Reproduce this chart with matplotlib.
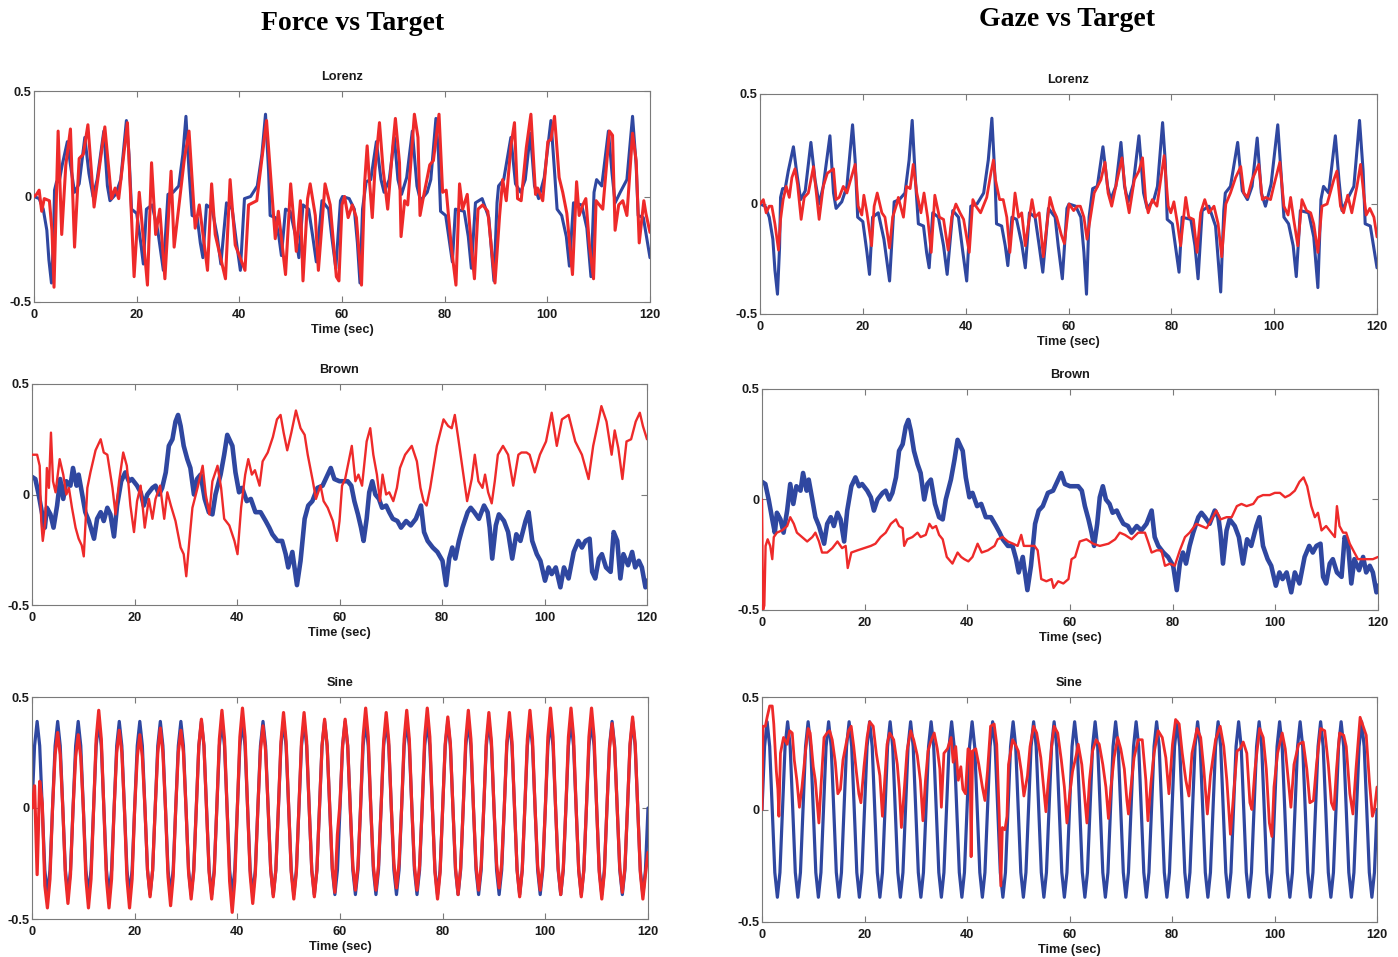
import numpy as np
import matplotlib
matplotlib.use("Agg")
import matplotlib.pyplot as plt

# ---------------------------------------------------------------- data
# Lorenz target (shared by both columns): (time s, value)
lorenz_target = [
    (0, 0.00), (1.0, -0.01), (1.8, -0.06), (2.5, -0.16), (2.9, -0.30), (3.4, -0.41),
    (3.8, -0.20), (4.0, 0.03), (4.4, 0.07), (4.9, 0.07), (5.5, 0.15), (6.5, 0.26),
    (7.1, 0.15), (7.9, 0.02), (8.8, 0.06), (9.9, 0.28), (10.7, 0.11), (11.5, 0.00),
    (12.3, 0.08), (13.6, 0.31), (14.3, 0.05), (14.8, -0.02), (15.9, 0.01), (16.9, 0.08),
    (18.0, 0.36), (18.5, 0.20), (19.0, -0.06), (20.0, -0.08), (20.8, -0.22), (21.3, -0.32),
    (21.9, -0.06), (23.0, -0.04), (24.1, -0.16), (25.2, -0.35), (26.1, 0.01), (27.1, 0.02),
    (28.2, 0.05), (29.0, 0.20), (29.6, 0.38), (30.2, 0.12), (30.8, -0.09), (31.8, -0.10),
    (32.4, -0.22), (32.9, -0.29), (33.6, -0.04), (34.7, -0.06), (35.7, -0.19), (36.4, -0.32),
    (37.5, -0.03), (38.6, -0.06), (39.4, -0.21), (40.2, -0.35), (41.0, -0.01), (42.2, 0.00),
    (43.5, 0.05), (44.4, 0.20), (45.1, 0.39), (45.7, 0.12), (46.0, -0.09), (47.0, -0.10),
    (47.7, -0.19), (48.2, -0.28), (49.0, -0.06), (49.9, -0.07), (50.9, -0.18), (51.6, -0.29),
    (52.4, -0.04), (53.5, -0.06), (54.3, -0.19), (55.0, -0.31), (56.1, -0.02), (57.4, -0.06),
    (58.0, -0.19), (58.8, -0.34), (59.7, -0.02), (60.1, 0.00), (61.4, -0.01), (62.4, -0.06),
    (63.0, -0.22), (63.5, -0.41), (64.0, -0.06), (64.7, 0.07), (65.6, 0.08), (66.7, 0.26),
    (67.6, 0.08), (68.2, 0.02), (69.2, 0.08), (70.2, 0.28), (70.9, 0.08), (71.6, 0.01),
    (72.6, 0.09), (73.7, 0.31), (74.6, 0.05), (75.3, -0.02), (76.6, 0.02), (77.3, 0.08),
    (78.3, 0.37), (78.8, 0.20), (79.2, -0.07), (80.2, -0.09), (80.8, -0.19), (81.5, -0.31),
    (82.1, -0.06), (83.8, -0.07), (84.6, -0.19), (85.2, -0.34), (86.0, -0.03), (87.3, -0.01),
    (88.6, -0.10), (89.6, -0.40), (90.2, -0.03), (90.5, 0.05), (91.5, 0.08), (92.9, 0.28),
    (93.8, 0.06), (94.8, 0.02), (95.7, 0.08), (96.7, 0.30), (97.5, 0.05), (98.3, -0.01),
    (99.4, 0.09), (100.7, 0.36), (101.4, 0.12), (101.9, -0.06), (102.8, -0.09), (103.7, -0.19),
    (104.3, -0.33), (105.1, -0.03), (106.7, -0.04), (107.7, -0.15), (108.5, -0.38), (109.1, 0.02),
    (109.6, 0.08), (110.6, 0.05), (111.9, 0.31), (112.6, 0.11), (113.2, -0.03), (114.2, 0.02),
    (115.5, 0.08), (116.6, 0.38), (117.3, 0.15), (117.7, -0.09), (118.7, -0.10), (120.0, -0.29),
]

lorenz_force = [
    (0, 0.00), (0.5, 0.01), (1.0, 0.03), (1.5, -0.07), (2.0, -0.01), (3.0, -0.02),
    (3.5, -0.16), (3.9, -0.43), (4.7, 0.31), (5.4, -0.18), (6.2, 0.15), (7.1, 0.32),
    (7.9, -0.24), (8.8, 0.18), (9.6, 0.20), (10.5, 0.34), (11.7, -0.05), (13.8, 0.33),
    (15.1, -0.01), (15.8, 0.04), (16.5, -0.01), (18.2, 0.35), (19.5, -0.38), (20.5, 0.02),
    (22.1, -0.42), (22.9, 0.16), (23.7, -0.18), (24.5, -0.06), (25.5, -0.39), (26.7, 0.12),
    (27.3, -0.24), (29.3, 0.18), (30.2, 0.31), (31.4, -0.15), (32.2, -0.04), (33.8, -0.35),
    (34.6, 0.06), (35.3, -0.18), (37.3, -0.39), (38.2, 0.08), (39.2, -0.23), (41.1, -0.35),
    (41.8, -0.04), (43.4, -0.02), (45.3, 0.36), (47.0, -0.20), (47.6, -0.07), (49.0, -0.37),
    (50.0, 0.06), (51.1, -0.26), (51.9, -0.02), (52.4, -0.40), (53.3, -0.01), (53.8, 0.06),
    (54.8, -0.09), (55.4, -0.35), (56.7, 0.06), (57.7, -0.04), (58.9, -0.38), (59.4, -0.40),
    (60.0, -0.04), (60.5, 0.00), (61.2, -0.10), (62.0, -0.04), (62.8, -0.10), (63.8, -0.42),
    (64.4, 0.06), (64.9, 0.24), (65.3, 0.09), (65.9, -0.10), (66.4, 0.12), (67.3, 0.35),
    (68.0, 0.13), (68.9, -0.06), (69.9, 0.24), (70.4, 0.37), (71.2, 0.16), (71.5, -0.19),
    (72.2, -0.02), (72.8, -0.04), (74.1, 0.39), (74.8, 0.28), (75.2, -0.09), (75.8, -0.01),
    (77.1, 0.15), (77.8, 0.17), (78.9, 0.39), (79.6, 0.02), (80.3, 0.03), (81.3, -0.24),
    (82.2, -0.42), (82.9, 0.06), (83.5, -0.06), (84.4, 0.01), (85.2, -0.24), (85.8, -0.39),
    (86.5, -0.06), (87.4, -0.04), (88.4, -0.07), (89.8, -0.41), (90.7, -0.09), (91.3, 0.08),
    (92.0, -0.02), (92.9, 0.24), (93.6, 0.35), (94.2, -0.01), (94.9, -0.02), (95.9, 0.23),
    (96.8, 0.39), (97.7, 0.01), (98.1, 0.04), (99.1, -0.02), (100.1, 0.26), (100.7, 0.27),
    (101.4, 0.38), (102.3, 0.09), (103.0, 0.02), (103.8, -0.08), (104.9, -0.37), (105.7, 0.07),
    (106.2, -0.09), (106.9, -0.04), (107.5, -0.01), (108.2, -0.23), (109.0, -0.39), (109.5, -0.02),
    (110.8, -0.06), (112.1, 0.31), (112.7, 0.29), (113.2, -0.16), (113.9, -0.04), (114.7, -0.02),
    (115.5, -0.09), (116.6, 0.30), (117.3, 0.17), (117.9, -0.22), (118.8, -0.02), (119.2, -0.08),
    (120.0, -0.17),
]

lorenz_gaze = [
    (0, 0.00), (0.65, 0.02), (1.2, -0.04), (1.8, -0.01), (2.3, -0.01), (2.9, -0.09),
    (3.6, -0.21), (4.0, -0.07), (4.5, 0.02), (5.1, 0.08), (5.7, 0.03), (6.2, 0.12),
    (6.8, 0.16), (7.3, 0.09), (8.0, -0.07), (8.6, 0.03), (9.4, 0.05), (10.4, 0.17),
    (10.9, 0.06), (11.5, -0.07), (12.3, 0.08), (13.1, 0.14), (14.3, 0.16), (14.8, 0.02),
    (15.4, 0.03), (16.2, 0.08), (16.9, 0.05), (17.5, 0.10), (18.5, 0.18), (19.1, -0.01),
    (19.8, -0.05), (20.2, 0.04), (20.8, -0.04), (21.7, -0.19), (22.2, -0.01), (22.8, 0.05),
    (23.7, -0.04), (24.3, -0.06), (25.2, -0.20), (25.8, -0.06), (26.6, 0.00), (26.9, 0.03),
    (27.9, -0.06), (28.5, 0.08), (29.2, 0.07), (29.8, 0.18), (30.5, 0.05), (31.3, -0.04),
    (31.9, 0.05), (32.6, -0.06), (33.3, -0.22), (34.0, 0.04), (34.9, -0.06), (35.7, -0.07),
    (36.6, -0.21), (37.3, -0.06), (38.1, 0.00), (38.9, -0.04), (39.6, -0.07), (40.7, -0.22),
    (41.4, 0.02), (42.0, -0.01), (42.9, -0.04), (44.1, 0.03), (44.9, 0.14), (45.4, 0.20),
    (45.8, 0.11), (46.6, 0.02), (47.3, 0.02), (48.0, -0.06), (48.6, -0.22), (49.6, 0.05),
    (50.3, -0.06), (50.9, -0.04), (51.6, -0.19), (52.9, 0.02), (53.5, -0.06), (54.3, -0.04),
    (55.1, -0.24), (56.4, 0.03), (57.1, -0.03), (57.7, -0.06), (58.6, -0.14), (59.2, -0.18),
    (60.1, 0.00), (61.0, -0.03), (61.7, -0.01), (62.3, -0.01), (63.0, -0.06), (63.6, -0.16),
    (64.2, -0.07), (65.0, 0.05), (66.3, 0.11), (67.1, 0.19), (67.7, 0.05), (68.4, -0.01),
    (69.2, 0.08), (70.4, 0.21), (71.1, 0.05), (71.8, -0.04), (72.8, 0.11), (73.7, 0.15),
    (74.4, 0.21), (75.0, 0.02), (75.5, -0.04), (76.3, 0.02), (77.2, -0.01), (78.6, 0.22),
    (79.4, -0.01), (79.9, -0.04), (80.5, 0.01), (81.2, -0.09), (81.8, -0.19), (82.8, 0.03),
    (83.4, -0.06), (84.3, -0.07), (85.0, -0.22), (85.7, -0.04), (86.5, 0.02), (87.3, -0.04),
    (88.3, -0.01), (89.1, -0.09), (89.8, -0.24), (90.6, 0.00), (91.5, 0.05), (92.5, 0.12),
    (93.5, 0.17), (94.1, 0.05), (94.8, 0.03), (95.7, 0.11), (97.0, 0.18), (97.7, 0.02),
    (98.3, 0.03), (99.3, 0.02), (99.9, 0.08), (101.1, 0.19), (101.9, -0.01), (102.7, -0.05),
    (103.2, 0.03), (103.8, -0.07), (104.6, -0.19), (105.4, 0.02), (106.3, -0.03), (107.1, -0.04),
    (107.7, -0.09), (108.5, -0.22), (109.3, -0.01), (110.3, 0.00), (111.6, 0.11), (112.2, 0.15),
    (112.9, -0.01), (113.5, -0.04), (114.3, 0.04), (115.1, -0.04), (116.1, 0.08), (116.8, 0.18),
    (117.4, 0.05), (117.9, -0.05), (118.6, -0.02), (119.4, -0.06), (120.0, -0.15),
]

# Brown-noise target (shared by both columns)
brown_target = [
    (0, 0.08), (0.65, 0.07), (1.3, 0.00), (2.0, -0.09), (2.5, -0.15), (2.9, -0.06),
    (3.6, -0.09), (4.2, -0.15), (4.9, -0.05), (5.5, 0.07), (6.1, -0.02), (6.7, 0.06),
    (7.5, 0.04), (8.0, 0.12), (8.7, 0.04), (9.1, 0.09), (9.8, 0.00), (10.4, -0.08),
    (11.1, -0.12), (12.1, -0.20), (12.7, -0.11), (13.4, -0.08), (14.0, -0.12), (14.7, -0.06),
    (15.3, -0.09), (16.0, -0.19), (16.6, -0.05), (17.4, 0.06), (18.2, 0.10), (18.9, 0.06),
    (19.5, 0.07), (20.5, 0.04), (21.2, 0.01), (21.8, -0.05), (22.5, 0.00), (23.5, 0.03),
    (24.1, 0.04), (24.8, 0.00), (25.4, 0.03), (26.1, 0.10), (26.7, 0.22), (27.4, 0.25),
    (28.0, 0.33), (28.5, 0.36), (29.0, 0.31), (29.6, 0.22), (30.3, 0.16), (30.9, 0.12),
    (31.6, 0.00), (32.2, 0.07), (32.9, 0.09), (33.7, -0.02), (34.5, -0.08), (35.2, -0.09),
    (35.8, 0.00), (36.8, 0.09), (37.5, 0.18), (38.1, 0.27), (39.1, 0.22), (39.7, 0.10),
    (40.4, 0.01), (41.0, 0.03), (41.9, -0.03), (42.7, -0.02), (43.6, -0.08), (44.6, -0.08),
    (45.6, -0.12), (46.3, -0.15), (46.9, -0.18), (47.9, -0.21), (48.8, -0.21), (49.5, -0.27),
    (50.0, -0.33), (50.8, -0.26), (51.7, -0.41), (52.4, -0.30), (53.2, -0.11), (53.9, -0.05),
    (54.7, -0.03), (55.7, 0.03), (56.7, 0.04), (57.7, 0.09), (58.3, 0.12), (59.0, 0.07),
    (60.0, 0.06), (61.6, 0.06), (62.3, 0.04), (62.9, -0.03), (63.6, -0.09), (64.2, -0.15),
    (64.7, -0.21), (65.3, -0.11), (65.8, 0.01), (66.4, 0.06), (67.0, 0.00), (67.7, -0.02),
    (68.3, -0.06), (69.1, -0.05), (69.7, -0.08), (70.4, -0.11), (71.3, -0.12), (72.0, -0.15),
    (73.0, -0.12), (73.9, -0.14), (74.9, -0.11), (75.9, -0.05), (76.5, -0.17), (77.2, -0.21),
    (78.2, -0.24), (79.1, -0.26), (80.1, -0.30), (80.8, -0.41), (81.4, -0.29), (82.0, -0.24),
    (82.6, -0.29), (83.3, -0.21), (84.0, -0.15), (85.0, -0.08), (85.6, -0.06), (86.3, -0.08),
    (87.2, -0.11), (88.2, -0.05), (88.9, -0.08), (89.3, -0.15), (89.8, -0.29), (90.5, -0.14),
    (91.1, -0.09), (92.1, -0.12), (92.9, -0.17), (93.7, -0.29), (94.5, -0.18), (95.3, -0.21),
    (96.3, -0.12), (96.9, -0.08), (97.6, -0.21), (98.5, -0.27), (99.2, -0.30), (100.1, -0.39),
    (100.8, -0.33), (101.4, -0.36), (102.2, -0.33), (103.1, -0.42), (103.8, -0.33), (104.7, -0.38),
    (105.7, -0.26), (106.6, -0.21), (107.3, -0.24), (108.0, -0.21), (108.8, -0.20), (109.3, -0.35),
    (109.9, -0.38), (110.6, -0.29), (111.2, -0.27), (112.0, -0.33), (112.9, -0.35), (113.5, -0.17),
    (114.2, -0.21), (114.8, -0.38), (115.4, -0.27), (116.3, -0.32), (117.1, -0.26), (117.7, -0.33),
    (118.4, -0.30), (119.0, -0.33), (119.7, -0.42), (120.0, -0.39),
]

brown_force = [
    (0, 0.18), (1.0, 0.18), (1.5, 0.13), (1.8, -0.12), (2.1, -0.21), (2.6, -0.12),
    (2.9, 0.12), (3.3, 0.03), (3.7, 0.28), (4.1, 0.06), (4.6, 0.01), (5.4, 0.16),
    (6.1, 0.09), (6.7, 0.00), (7.2, 0.03), (7.8, -0.06), (8.5, -0.15), (9.1, -0.20),
    (9.7, -0.23), (10.1, -0.28), (10.8, 0.03), (11.4, 0.10), (12.4, 0.20), (13.4, 0.25),
    (14.0, 0.19), (14.7, 0.18), (15.7, 0.03), (16.3, -0.09), (17.0, 0.06), (17.8, 0.19),
    (18.5, 0.13), (19.2, -0.05), (19.9, -0.17), (20.5, -0.03), (21.2, 0.04), (22.0, -0.15),
    (22.8, -0.02), (23.5, -0.11), (24.1, -0.02), (25.0, 0.04), (25.8, -0.11), (26.4, 0.01),
    (27.1, -0.05), (28.0, -0.12), (29.0, -0.24), (29.6, -0.27), (30.1, -0.37), (30.7, -0.21),
    (31.3, -0.06), (32.3, 0.03), (33.3, 0.13), (33.9, 0.00), (34.6, -0.09), (35.2, 0.06),
    (36.2, 0.13), (36.9, 0.03), (37.5, -0.11), (38.5, -0.14), (39.5, -0.21), (40.1, -0.27),
    (40.8, -0.06), (41.6, 0.09), (42.2, 0.16), (42.9, 0.09), (43.5, 0.11), (44.4, 0.04),
    (45.0, 0.15), (46.0, 0.19), (47.0, 0.26), (47.8, 0.34), (48.5, 0.36), (49.1, 0.28),
    (49.8, 0.20), (50.6, 0.28), (51.5, 0.38), (52.4, 0.30), (53.2, 0.27), (53.8, 0.18),
    (54.8, 0.06), (55.4, -0.02), (56.3, 0.04), (56.9, -0.03), (57.7, -0.06), (58.7, -0.12),
    (59.5, -0.21), (60.0, -0.12), (60.5, 0.04), (61.1, 0.07), (61.8, 0.15), (62.4, 0.22),
    (63.1, 0.06), (63.7, 0.09), (64.4, 0.04), (65.3, 0.24), (66.0, 0.30), (66.6, 0.18),
    (67.3, 0.09), (67.9, -0.03), (68.4, 0.09), (69.1, 0.00), (69.7, 0.01), (70.5, -0.03),
    (71.2, 0.03), (71.8, 0.12), (72.8, 0.18), (74.1, 0.22), (75.1, 0.15), (75.8, 0.03),
    (76.4, -0.03), (77.0, -0.05), (77.7, 0.03), (79.0, 0.22), (80.3, 0.34), (81.2, 0.31),
    (81.9, 0.30), (82.5, 0.36), (83.2, 0.25), (83.8, 0.15), (84.9, -0.03), (85.8, 0.07),
    (86.4, 0.18), (87.1, 0.06), (87.9, 0.03), (88.4, 0.09), (89.0, 0.01), (89.7, -0.04),
    (90.3, 0.06), (90.9, 0.18), (91.9, 0.22), (92.9, 0.18), (93.9, 0.04), (94.9, 0.18),
    (95.5, 0.19), (96.5, 0.19), (97.1, 0.18), (98.1, 0.10), (99.1, 0.18), (100.3, 0.24),
    (101.4, 0.37), (102.4, 0.22), (103.4, 0.34), (104.7, 0.36), (106.0, 0.24), (107.3, 0.18),
    (108.6, 0.07), (109.5, 0.22), (110.5, 0.33), (111.1, 0.40), (112.1, 0.33), (113.1, 0.18),
    (113.7, 0.29), (114.4, 0.21), (115.2, 0.07), (116.0, 0.24), (116.9, 0.25), (117.8, 0.33),
    (118.6, 0.37), (119.2, 0.31), (120.0, 0.25),
]

brown_gaze = [
    (0, 0.00), (0.2, -0.50), (0.45, -0.48), (0.7, -0.21), (1.1, -0.18), (1.6, -0.21),
    (2.0, -0.27), (2.3, -0.17), (2.9, -0.15), (3.9, -0.14), (4.9, -0.12), (5.5, -0.08),
    (6.2, -0.11), (6.8, -0.15), (7.8, -0.17), (8.8, -0.19), (9.8, -0.17), (10.4, -0.15),
    (11.1, -0.19), (11.7, -0.24), (12.7, -0.24), (13.7, -0.22), (14.7, -0.19), (15.6, -0.22),
    (16.3, -0.21), (16.7, -0.31), (17.4, -0.24), (18.6, -0.23), (19.9, -0.22), (21.2, -0.21),
    (22.1, -0.20), (23.1, -0.17), (24.1, -0.15), (25.1, -0.11), (26.1, -0.09), (26.7, -0.12),
    (27.4, -0.13), (27.7, -0.21), (28.3, -0.18), (29.3, -0.17), (30.3, -0.15), (30.9, -0.17),
    (31.9, -0.16), (32.6, -0.11), (33.2, -0.13), (33.9, -0.12), (34.5, -0.16), (35.2, -0.18),
    (36.0, -0.26), (37.1, -0.29), (38.1, -0.24), (38.8, -0.26), (39.4, -0.27), (40.2, -0.28),
    (41.0, -0.26), (42.0, -0.20), (42.8, -0.24), (44.0, -0.23), (45.3, -0.21), (45.9, -0.18),
    (46.9, -0.17), (47.9, -0.19), (48.9, -0.20), (49.8, -0.21), (50.5, -0.16), (51.0, -0.21),
    (52.1, -0.21), (53.1, -0.21), (53.7, -0.23), (54.4, -0.36), (55.4, -0.37), (56.4, -0.36),
    (56.8, -0.40), (57.7, -0.37), (58.7, -0.38), (59.7, -0.36), (60.3, -0.27), (61.0, -0.26),
    (61.9, -0.19), (63.2, -0.18), (64.5, -0.20), (65.8, -0.21), (67.5, -0.20), (68.8, -0.18),
    (69.7, -0.15), (70.7, -0.16), (72.0, -0.18), (73.3, -0.15), (74.6, -0.15), (75.2, -0.19),
    (75.9, -0.24), (76.9, -0.23), (77.8, -0.23), (78.5, -0.30), (79.5, -0.29), (80.4, -0.30),
    (81.4, -0.23), (82.4, -0.17), (83.3, -0.15), (84.6, -0.11), (85.6, -0.12), (86.6, -0.13),
    (87.6, -0.09), (88.5, -0.05), (89.3, -0.09), (90.5, -0.08), (91.5, -0.08), (92.5, -0.03),
    (93.4, -0.02), (94.4, -0.03), (95.7, -0.02), (96.6, 0.01), (97.6, 0.02), (98.9, 0.02),
    (99.9, 0.03), (100.9, 0.03), (101.9, 0.01), (102.8, 0.02), (103.8, 0.04), (104.7, 0.08),
    (105.5, 0.10), (106.2, 0.06), (107.0, -0.03), (107.7, -0.08), (108.3, -0.06), (109.0, -0.14),
    (109.9, -0.12), (110.9, -0.15), (111.6, -0.17), (112.0, -0.03), (112.5, -0.12), (113.2, -0.15),
    (113.8, -0.15), (114.5, -0.20), (115.4, -0.24), (116.1, -0.27), (117.1, -0.27), (118.0, -0.27),
    (119.0, -0.27), (120.0, -0.26),
]

# Sine target and force response sampled every 0.5 s (one 4-s period per row)
sine_step = 0.5
sine_target = [
    0.00, 0.28, 0.39, 0.28, 0.00, -0.28, -0.39, -0.28,
    0.00, 0.28, 0.39, 0.28, 0.00, -0.28, -0.39, -0.28,
    0.00, 0.28, 0.39, 0.28, 0.00, -0.28, -0.39, -0.28,
    0.00, 0.28, 0.39, 0.28, 0.00, -0.28, -0.39, -0.28,
    0.00, 0.28, 0.39, 0.28, 0.00, -0.28, -0.39, -0.28,
    0.00, 0.28, 0.39, 0.28, 0.00, -0.28, -0.39, -0.28,
    0.00, 0.28, 0.39, 0.28, 0.00, -0.28, -0.39, -0.28,
    0.00, 0.28, 0.39, 0.28, 0.00, -0.28, -0.39, -0.28,
    0.00, 0.28, 0.39, 0.28, 0.00, -0.28, -0.39, -0.28,
    0.00, 0.28, 0.39, 0.28, 0.00, -0.28, -0.39, -0.28,
    0.00, 0.28, 0.39, 0.28, 0.00, -0.28, -0.39, -0.28,
    0.00, 0.28, 0.39, 0.28, 0.00, -0.28, -0.39, -0.28,
    0.00, 0.28, 0.39, 0.28, 0.00, -0.28, -0.39, -0.28,
    0.00, 0.28, 0.39, 0.28, 0.00, -0.28, -0.39, -0.28,
    0.00, 0.28, 0.39, 0.28, 0.00, -0.28, -0.39, -0.28,
    0.00, 0.28, 0.39, 0.28, 0.00, -0.28, -0.39, -0.28,
    0.00, 0.28, 0.39, 0.28, 0.00, -0.28, -0.39, -0.28,
    0.00, 0.28, 0.39, 0.28, 0.00, -0.28, -0.39, -0.28,
    0.00, 0.28, 0.39, 0.28, 0.00, -0.28, -0.39, -0.28,
    0.00, 0.28, 0.39, 0.28, 0.00, -0.28, -0.39, -0.28,
    0.00, 0.28, 0.39, 0.28, 0.00, -0.28, -0.39, -0.28,
    0.00, 0.28, 0.39, 0.28, 0.00, -0.28, -0.39, -0.28,
    0.00, 0.28, 0.39, 0.28, 0.00, -0.28, -0.39, -0.28,
    0.00, 0.28, 0.39, 0.28, 0.00, -0.28, -0.39, -0.28,
    0.00, 0.28, 0.39, 0.28, 0.00, -0.28, -0.39, -0.28,
    0.00, 0.28, 0.39, 0.28, 0.00, -0.28, -0.39, -0.28,
    0.00, 0.28, 0.39, 0.28, 0.00, -0.28, -0.39, -0.28,
    0.00, 0.28, 0.39, 0.28, 0.00, -0.28, -0.39, -0.28,
    0.00, 0.28, 0.39, 0.28, 0.00, -0.28, -0.39, -0.28,
    0.00, 0.28, 0.39, 0.28, 0.00, -0.28, -0.39, -0.28,
    0.00,
]

sine_force = [
    0.00, 0.10, -0.30, 0.12, 0.02, -0.35, -0.45, -0.32,
    0.00, 0.24, 0.34, 0.24, 0.00, -0.30, -0.43, -0.30,
    0.00, 0.23, 0.33, 0.23, 0.00, -0.32, -0.45, -0.32,
    0.00, 0.31, 0.44, 0.31, 0.00, -0.32, -0.45, -0.32,
    0.00, 0.25, 0.35, 0.25, 0.00, -0.32, -0.45, -0.32,
    0.00, 0.23, 0.33, 0.23, 0.00, -0.28, -0.40, -0.28,
    0.00, 0.25, 0.36, 0.25, 0.00, -0.31, -0.44, -0.31,
    0.00, 0.25, 0.35, 0.25, 0.00, -0.29, -0.41, -0.29,
    0.00, 0.28, 0.40, 0.28, 0.00, -0.29, -0.41, -0.29,
    0.00, 0.31, 0.44, 0.31, 0.00, -0.33, -0.47, -0.33,
    0.00, 0.32, 0.45, 0.32, 0.00, -0.30, -0.43, -0.30,
    0.00, 0.26, 0.37, 0.26, 0.00, -0.28, -0.40, -0.28,
    0.00, 0.30, 0.43, 0.30, 0.00, -0.29, -0.41, -0.29,
    0.00, 0.30, 0.43, 0.30, 0.00, -0.28, -0.40, -0.28,
    0.00, 0.28, 0.40, 0.28, 0.00, -0.27, -0.38, -0.12,
    0.02, 0.28, 0.40, 0.28, 0.00, -0.26, -0.37, -0.26,
    0.00, 0.32, 0.45, 0.32, 0.00, -0.26, -0.37, -0.26,
    0.00, 0.30, 0.43, 0.30, 0.00, -0.25, -0.36, -0.25,
    0.00, 0.31, 0.44, 0.31, 0.00, -0.26, -0.37, -0.26,
    0.00, 0.32, 0.45, 0.32, 0.00, -0.29, -0.41, -0.29,
    0.00, 0.29, 0.41, 0.29, 0.00, -0.27, -0.39, -0.27,
    0.00, 0.31, 0.44, 0.31, 0.00, -0.26, -0.37, -0.26,
    0.00, 0.30, 0.43, 0.30, 0.00, -0.25, -0.36, -0.25,
    0.00, 0.30, 0.43, 0.30, 0.00, -0.28, -0.40, -0.28,
    0.00, 0.31, 0.44, 0.31, 0.00, -0.26, -0.37, -0.26,
    0.00, 0.32, 0.45, 0.32, 0.00, -0.27, -0.39, -0.27,
    0.00, 0.32, 0.45, 0.32, 0.00, -0.28, -0.40, -0.28,
    0.00, 0.32, 0.45, 0.32, 0.00, -0.29, -0.41, -0.29,
    0.00, 0.27, 0.38, 0.27, 0.00, -0.27, -0.38, -0.27,
    0.00, 0.29, 0.41, 0.29, 0.00, -0.29, -0.41, -0.30,
    -0.20,
]

sine_gaze = [
    (0, 0.00), (0.2, 0.37), (0.65, 0.37), (1.0, 0.41), (1.5, 0.46), (2.0, 0.46),
    (2.3, 0.38), (2.8, 0.17), (3.1, 0.09), (3.3, -0.03), (3.6, 0.25), (4.2, 0.32),
    (4.9, 0.29), (5.4, 0.35), (5.9, 0.34), (6.3, 0.22), (6.8, 0.13), (7.3, 0.01),
    (7.8, 0.10), (8.5, 0.26), (9.0, 0.36), (9.4, 0.34), (10.0, 0.19), (10.4, 0.13),
    (11.1, -0.06), (11.5, 0.10), (12.1, 0.32), (12.7, 0.34), (13.2, 0.35), (13.7, 0.31),
    (14.3, 0.21), (14.8, 0.07), (15.3, 0.09), (15.8, 0.22), (16.3, 0.28), (16.9, 0.35),
    (17.4, 0.37), (17.9, 0.28), (18.4, 0.17), (18.9, 0.07), (19.3, 0.03), (19.9, 0.19),
    (20.5, 0.32), (21.0, 0.39), (21.7, 0.37), (22.3, 0.25), (23.0, 0.15), (23.5, -0.03),
    (24.0, 0.15), (24.4, 0.29), (24.9, 0.34), (25.7, 0.31), (26.4, 0.20), (26.8, 0.09),
    (27.2, -0.08), (27.7, 0.07), (28.3, 0.26), (29.0, 0.35), (29.6, 0.31), (30.3, 0.24),
    (30.9, 0.13), (31.4, -0.05), (31.9, 0.13), (32.4, 0.26), (32.9, 0.30), (33.6, 0.34),
    (34.2, 0.27), (34.7, 0.18), (35.0, 0.01), (35.5, 0.25), (36.2, 0.27), (36.9, 0.32),
    (37.3, 0.21), (37.8, 0.28), (38.3, 0.13), (38.8, 0.19), (39.2, 0.09), (39.7, 0.07),
    (40.2, 0.27), (40.6, 0.26), (40.8, -0.21), (41.1, 0.26), (41.7, 0.27), (42.3, 0.20),
    (43.0, 0.10), (43.5, 0.04), (44.0, 0.17), (44.6, 0.37), (45.3, 0.38), (45.8, 0.29),
    (46.3, -0.03), (46.6, -0.34), (46.9, -0.08), (47.4, -0.09), (47.8, -0.03), (48.1, 0.20),
    (48.9, 0.31), (49.4, 0.29), (50.0, 0.26), (50.6, 0.17), (51.1, 0.06), (51.8, 0.15),
    (52.3, 0.28), (53.0, 0.37), (53.6, 0.34), (54.4, 0.23), (54.9, 0.11), (55.4, -0.01),
    (55.8, 0.11), (56.5, 0.28), (57.0, 0.37), (57.7, 0.34), (58.4, 0.22), (59.0, 0.10),
    (59.5, -0.06), (60.0, 0.06), (60.6, 0.17), (61.3, 0.24), (61.7, 0.29), (62.4, 0.20),
    (62.9, 0.07), (63.4, -0.06), (63.9, 0.13), (64.5, 0.26), (65.2, 0.31), (65.8, 0.29),
    (66.5, 0.20), (67.1, 0.10), (67.6, -0.04), (68.1, 0.10), (68.7, 0.23), (69.4, 0.32),
    (70.0, 0.27), (70.7, 0.18), (71.2, 0.04), (71.5, -0.02), (72.0, 0.10), (72.6, 0.23),
    (73.4, 0.31), (74.2, 0.31), (74.9, 0.13), (75.3, -0.05), (75.9, 0.12), (76.5, 0.25),
    (77.3, 0.35), (78.1, 0.32), (78.8, 0.23), (79.4, 0.07), (80.1, 0.29), (80.7, 0.40),
    (81.4, 0.38), (82.0, 0.25), (82.7, 0.13), (83.3, 0.06), (83.9, 0.25), (84.9, 0.36),
    (85.6, 0.32), (86.2, 0.18), (86.9, -0.02), (87.5, 0.15), (88.5, 0.31), (89.4, 0.37),
    (90.1, 0.28), (90.7, 0.13), (91.4, -0.11), (92.0, 0.06), (92.7, 0.26), (93.3, 0.27),
    (93.9, 0.30), (94.6, 0.25), (95.2, 0.03), (95.6, 0.00), (96.2, 0.18), (97.1, 0.36),
    (97.8, 0.32), (98.4, 0.18), (99.0, -0.06), (99.5, -0.12), (99.9, 0.10), (100.6, 0.25),
    (101.5, 0.34), (102.1, 0.27), (102.7, 0.13), (103.2, 0.01), (103.8, 0.20), (104.7, 0.29),
    (105.6, 0.30), (106.3, 0.18), (106.9, 0.03), (107.6, 0.04), (108.2, 0.20), (109.0, 0.36),
    (109.8, 0.35), (110.5, 0.20), (111.1, 0.03), (111.6, 0.00), (112.1, 0.18), (112.7, 0.34),
    (113.5, 0.33), (114.0, 0.28), (114.7, 0.07), (115.3, -0.02), (115.9, 0.18), (116.7, 0.41),
    (117.3, 0.37), (117.9, 0.33), (118.5, 0.13), (119.1, -0.03), (119.5, 0.00), (120.0, 0.10),
]

x_ticks = [0, 20, 40, 60, 80, 100, 120]
y_ticks = [-0.5, 0, 0.5]
y_tick_labels = ["-0.5", "0", "0.5"]
column_titles = ["Force vs Target", "Gaze vs Target"]
panel_titles = ["Lorenz", "Brown", "Sine"]

# ---------------------------------------------------------------- style
BLUE = "#2f47a0"
RED = "#ee2a2a"
FRAME = "#7a7a7a"
W, H = 1398, 957
SANS = ["Liberation Sans", "DejaVu Sans"]
SERIF = ["Liberation Serif", "DejaVu Serif"]
LABEL_SIZE = 9.2


def pairs(seq):
    arr = np.array(seq, dtype=float)
    return arr[:, 0], arr[:, 1]


def box(x0, y0, x1, y1):
    return [x0 / W, 1 - y1 / H, (x1 - x0) / W, (y1 - y0) / H]


fig = plt.figure(figsize=(W / 100, H / 100), dpi=100)
fig.patch.set_facecolor("white")

sine_t = np.arange(len(sine_target)) * sine_step

panels = {
    # (row, col): (axes box in px, target, response, target lw, response lw)
    (0, 0): (box(34, 91, 650, 302), pairs(lorenz_target), pairs(lorenz_force), 2.2, 2.2),
    (0, 1): (box(760, 94, 1377, 314), pairs(lorenz_target), pairs(lorenz_gaze), 2.2, 2.0),
    (1, 0): (box(32, 384, 647, 605), pairs(brown_target), pairs(brown_force), 3.3, 1.7),
    (1, 1): (box(762, 389, 1378, 610), pairs(brown_target), pairs(brown_gaze), 3.3, 1.7),
    (2, 0): (box(32, 697, 648, 919), (sine_t, np.array(sine_target)),
             (sine_t, np.array(sine_force)), 2.3, 2.3),
    (2, 1): (box(762, 697, 1377, 922), (sine_t, np.array(sine_target)),
             pairs(sine_gaze), 2.3, 2.0),
}

for (row, col), (rect, tgt, resp, lw_t, lw_r) in panels.items():
    ax = fig.add_axes(rect)
    ax.plot(tgt[0], tgt[1], color=BLUE, lw=lw_t, solid_joinstyle="round",
            solid_capstyle="round", zorder=2)
    ax.plot(resp[0], resp[1], color=RED, lw=lw_r, solid_joinstyle="round",
            solid_capstyle="round", zorder=3)
    ax.set_xlim(0, 120)
    ax.set_ylim(-0.5, 0.5)
    ax.set_xticks(x_ticks)
    ax.set_xticklabels([str(v) for v in x_ticks], fontfamily=SANS,
                       fontsize=LABEL_SIZE, fontweight="bold")
    ax.set_yticks(y_ticks)
    ax.set_yticklabels(y_tick_labels, fontfamily=SANS, fontsize=LABEL_SIZE,
                       fontweight="bold")
    ax.tick_params(direction="in", top=True, right=True, length=4, width=0.8,
                   color=FRAME, labelcolor="#1a1a1a")
    ax.tick_params(axis="x", pad=5)
    ax.tick_params(axis="y", pad=2)
    for sp in ax.spines.values():
        sp.set_color(FRAME)
        sp.set_linewidth(0.8)
    ax.set_title(panel_titles[row], fontfamily=SANS, fontsize=LABEL_SIZE,
                 fontweight="bold", color="#1a1a1a", pad=8)
    ax.set_xlabel("Time (sec)", fontfamily=SANS, fontsize=LABEL_SIZE,
                  fontweight="bold", color="#1a1a1a", labelpad=2)

fig.text(353 / W, 1 - 24 / H, column_titles[0], ha="center", va="center",
         fontfamily=SERIF, fontsize=20, fontweight="bold")
fig.text(1067 / W, 1 - 20 / H, column_titles[1], ha="center", va="center",
         fontfamily=SERIF, fontsize=20, fontweight="bold")

fig.savefig("out.png", dpi=100, facecolor="white")
